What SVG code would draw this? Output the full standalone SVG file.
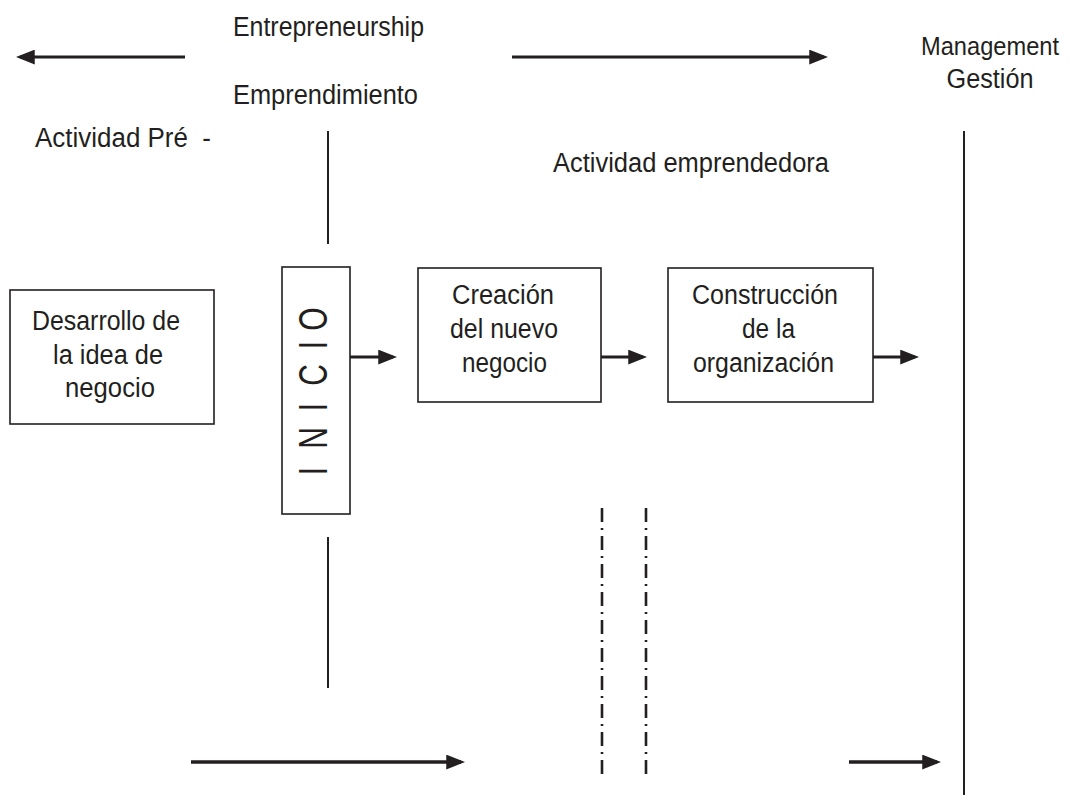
<svg xmlns="http://www.w3.org/2000/svg" width="1076" height="801" viewBox="0 0 1076 801">
<defs>
<marker id="ah" viewBox="0 0 18 14" refX="14" refY="7" markerWidth="19" markerHeight="15" markerUnits="userSpaceOnUse" orient="auto">
<path d="M0,0 L18,7 L0,14 Z" fill="#231f20"/>
</marker>
<style>
text{font-family:"Liberation Sans",Arial,sans-serif;font-size:27px;fill:#231f20}
.c{text-anchor:middle}
.box{fill:#fff;stroke:#231f20;stroke-width:1.6}
.arr{stroke:#231f20;stroke-width:3;fill:none;marker-end:url(#ah)}
.vl{stroke:#231f20;stroke-width:2;fill:none}
.dd{stroke:#231f20;stroke-width:2.6;fill:none;stroke-dasharray:14 6 2 6}
</style>
</defs>
<rect width="1076" height="801" fill="#fff"/>

<g id="labels">
<text x="233" y="36" textLength="191" lengthAdjust="spacingAndGlyphs">Entrepreneurship</text>
<text x="233" y="104" textLength="185" lengthAdjust="spacingAndGlyphs">Emprendimiento</text>
<text x="35" y="147" textLength="176" lengthAdjust="spacingAndGlyphs" xml:space="preserve" style="white-space:pre">Actividad Pré  -</text>
<text x="553" y="172" textLength="276" lengthAdjust="spacingAndGlyphs">Actividad emprendedora</text>
<text class="c" x="990" y="55" style="font-size:26px" textLength="138" lengthAdjust="spacingAndGlyphs">Management</text>
<text class="c" x="990" y="88" textLength="87" lengthAdjust="spacingAndGlyphs">Gestión</text>
</g>

<g id="node-desarrollo">
<rect class="box" x="10" y="290" width="204" height="134"/>
<text class="c" x="106" y="330" textLength="148" lengthAdjust="spacingAndGlyphs">Desarrollo de</text>
<text class="c" x="108" y="364" textLength="110" lengthAdjust="spacingAndGlyphs">la idea de</text>
<text class="c" x="110" y="397" textLength="90" lengthAdjust="spacingAndGlyphs">negocio</text>
</g>

<g id="node-inicio">
<rect class="box" x="282" y="267" width="68" height="247"/>
<text transform="translate(327,0) rotate(-90) scale(0.75,1)" style="font-size:40px;text-anchor:middle" x="-628 -584 -542.7 -500 -460 -425.3" y="0">INICIO</text>
</g>

<g id="node-creacion">
<rect class="box" x="418" y="268" width="183" height="134"/>
<text class="c" x="503" y="304" textLength="102" lengthAdjust="spacingAndGlyphs">Creación</text>
<text class="c" x="504" y="338" textLength="108" lengthAdjust="spacingAndGlyphs">del nuevo</text>
<text class="c" x="504.5" y="372" textLength="85" lengthAdjust="spacingAndGlyphs">negocio</text>
</g>

<g id="node-construccion">
<rect class="box" x="668" y="268" width="205" height="134"/>
<text class="c" x="765" y="304" textLength="146" lengthAdjust="spacingAndGlyphs">Construcción</text>
<text class="c" x="768.5" y="338" textLength="53" lengthAdjust="spacingAndGlyphs">de la</text>
<text class="c" x="763.5" y="372" textLength="141" lengthAdjust="spacingAndGlyphs">organización</text>
</g>

<g id="connectors">
<line class="arr" x1="185" y1="57" x2="20" y2="57"/>
<line class="arr" x1="512" y1="57" x2="824" y2="57"/>
<line class="vl" x1="328" y1="131" x2="328" y2="244"/>
<line class="vl" x1="328" y1="537" x2="328" y2="688"/>
<line class="vl" x1="964" y1="131" x2="964" y2="795"/>
<line class="arr" x1="350" y1="357" x2="393" y2="357"/>
<line class="arr" x1="601" y1="357" x2="643" y2="357"/>
<line class="arr" x1="873" y1="357" x2="915" y2="357"/>
<line class="dd" x1="602" y1="508" x2="602" y2="780"/>
<line class="dd" x1="646" y1="508" x2="646" y2="780"/>
<line class="arr" x1="191" y1="762" x2="461" y2="762" style="stroke-width:3.5"/>
<line class="arr" x1="849" y1="762" x2="937" y2="762" style="stroke-width:3.5"/>
</g>
</svg>
